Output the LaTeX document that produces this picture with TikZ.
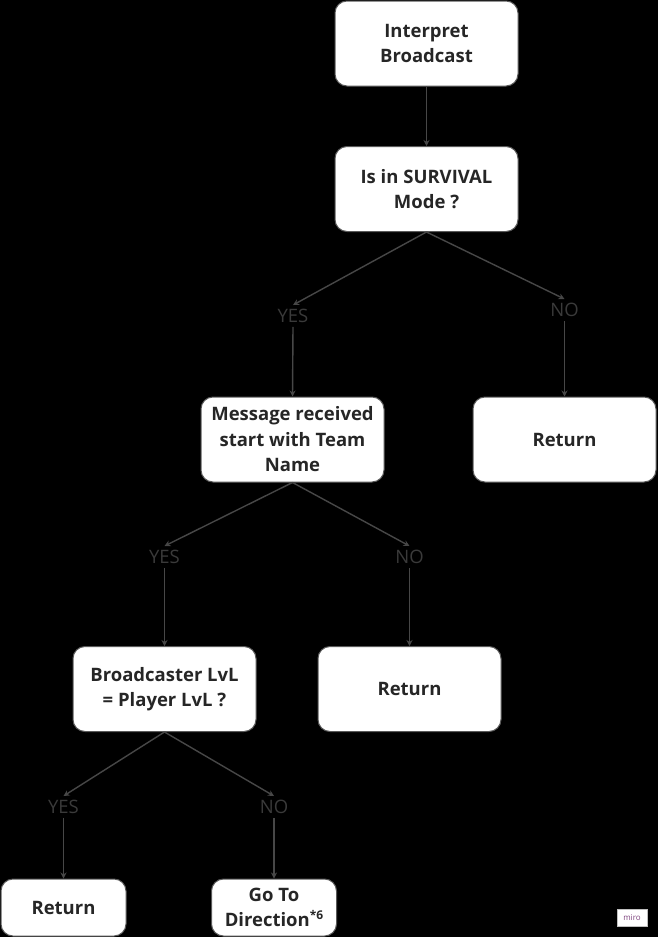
\documentclass[tikz,border=0pt]{standalone}
\usepackage{fontspec}
\setmainfont{Open Sans}
\usetikzlibrary{arrows.meta}
\definecolor{txt}{HTML}{262626}
\definecolor{lnk}{HTML}{474747}
\definecolor{lbl}{HTML}{3A3A3A}
\definecolor{brd}{HTML}{5A5A5A}
\tikzset{
  box/.style={draw=brd, line width=1pt, fill=white, rounded corners=12pt,
    minimum width=183pt, minimum height=85pt, align=center, text=txt,
    font=\fontsize{18.5}{25.5}\selectfont\bfseries, inner sep=2pt},
  smallbox/.style={box, minimum width=125pt, minimum height=57pt},
  lab/.style={text=lbl, font=\fontsize{18.5}{20}\selectfont, inner sep=4pt},
  link/.style={draw=lnk, line width=1.4pt, -{Stealth[length=6pt,width=6pt]}}
}
\begin{document}
\begin{tikzpicture}[x=1pt,y=-1pt]
\fill[black] (0,0) rectangle (658,937);
\useasboundingbox (0,0) rectangle (658,937);

\node[box] (b1) at (426.5,43.5) {Interpret\\Broadcast};
\node[box] (b2) at (426.5,189) {Is in SURVIVAL\\Mode ?};
\node[box] (b3) at (292.5,439.5) {Message received\\start with Team\\Name};
\node[box] (r1) at (564.5,439.5) {Return};
\node[box] (b4) at (164.5,689) {Broadcaster LvL\\= Player LvL ?};
\node[box] (r2) at (409.5,689) {Return};
\node[smallbox] (r3) at (63.5,907.5) {Return};
\node[smallbox] (gd) at (274,907.5) {Go To\\Direction\raisebox{7pt}{\fontsize{12}{12}\selectfont\bfseries *6}};

\node[lab] (y1) at (293,316) {YES};
\node[lab] (n1) at (564.5,310) {NO};
\node[lab] (y2) at (164.5,557) {YES};
\node[lab] (n2) at (409.5,557) {NO};
\node[lab] (y3) at (63.5,807) {YES};
\node[lab] (n3) at (274,807) {NO};

\draw[link] (b1.south) -- (b2.north);

\draw[link] (b2.south) -- (y1.north);
\draw[link] (b2.south) -- (n1.north);
\draw[link] (y1.south) -- (b3.north);
\draw[link] (n1.south) -- (r1.north);

\draw[link] (b3.south) -- (y2.north);
\draw[link] (b3.south) -- (n2.north);
\draw[link] (y2.south) -- (b4.north);
\draw[link] (n2.south) -- (r2.north);

\draw[link] (b4.south) -- (y3.north);
\draw[link] (b4.south) -- (n3.north);
\draw[link] (y3.south) -- (r3.north);
\draw[link] (n3.south) -- (gd.north);

\node[draw=black!25, fill=white, text=violet!45!gray, font=\fontsize{8}{9}\selectfont,
  inner sep=1.5pt, minimum width=30pt, minimum height=17pt] (miro) at (632,917.5) {miro};
\end{tikzpicture}
\end{document}
